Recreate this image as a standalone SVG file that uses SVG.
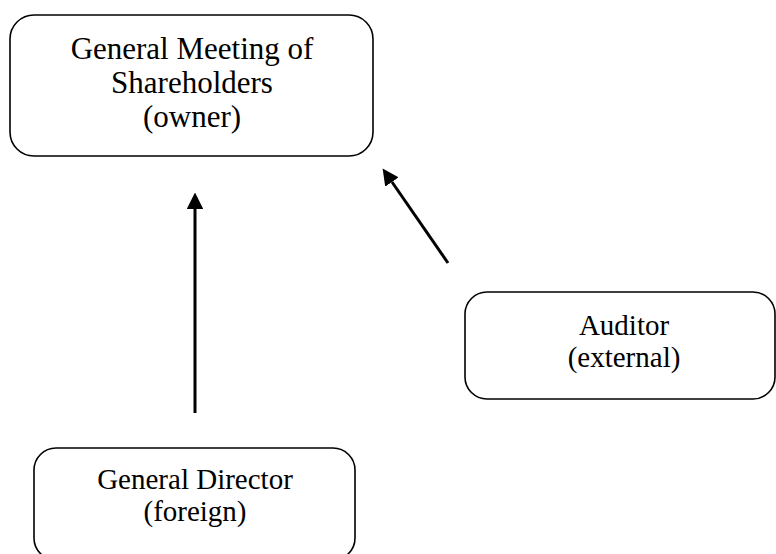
<svg xmlns="http://www.w3.org/2000/svg" width="776" height="554" viewBox="0 0 776 554">
<defs>
<style>
.box{fill:#fff;stroke:#000;stroke-width:1.6}
.t{font-family:"Liberation Serif","Times New Roman",serif;fill:#000;text-anchor:middle}
.a{stroke:#000;stroke-width:3;fill:none}
</style>
<marker id="ah" viewBox="0 0 10 10" refX="0" refY="5" markerWidth="5.5" markerHeight="5.5" markerUnits="strokeWidth" orient="auto">
<path d="M0,0 L10,5 L0,10 z" fill="#000"/>
</marker>
</defs>
<rect width="776" height="554" fill="#fff"/>
<g id="gms">
<rect class="box" x="10" y="15" width="363" height="141" rx="24"/>
<text class="t" font-size="31" x="192" y="59">General Meeting of</text>
<text class="t" font-size="31" x="192" y="93">Shareholders</text>
<text class="t" font-size="31" x="192" y="127">(owner)</text>
</g>
<g id="auditor">
<rect class="box" x="465" y="292" width="310" height="107" rx="22"/>
<text class="t" font-size="29" x="624" y="335">Auditor</text>
<text class="t" font-size="29" x="624" y="367">(external)</text>
</g>
<g id="director">
<rect class="box" x="34" y="448" width="321" height="112" rx="22"/>
<text class="t" font-size="29" x="195" y="489">General Director</text>
<text class="t" font-size="29" x="195" y="521">(foreign)</text>
</g>
<g id="connectors">
<line class="a" x1="195" y1="413" x2="195" y2="209" marker-end="url(#ah)"/>
<line class="a" x1="448" y1="263" x2="392" y2="182" marker-end="url(#ah)"/>
</g>
</svg>
